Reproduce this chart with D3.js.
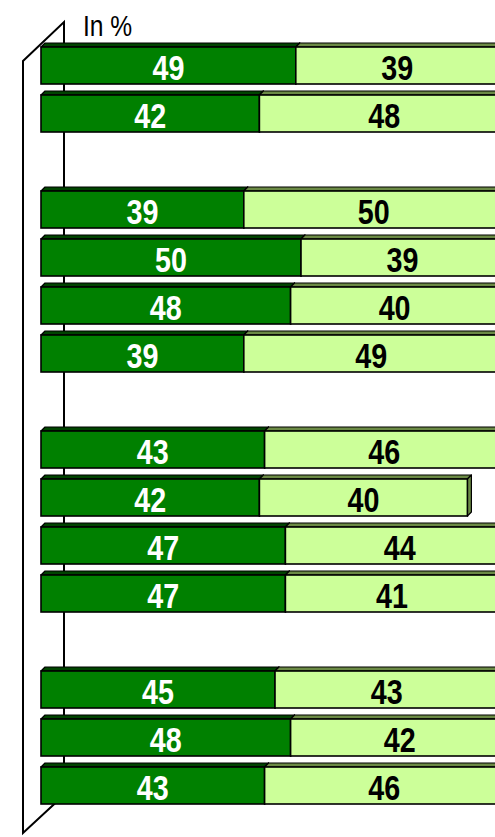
<!DOCTYPE html>
<html>
<head>
<meta charset="utf-8">
<style>
  body { margin: 0; background: #fff; }
  svg { display: block; }
  .lbl { font-family: "Liberation Sans", Arial, sans-serif; font-weight: bold; font-size: 35px; }
  .unit { font-family: "Liberation Sans", Arial, sans-serif; font-size: 30px; }
</style>
</head>
<body>
<script src="https://d3js.org/d3.v7.min.js"></script>
<script>
// 16 slots, three of them empty (group separators)
var rows = ["r1", "r2", "gap1", "r3", "r4", "r5", "r6", "gap2", "r7", "r8", "r9", "r10", "gap3", "r11", "r12", "r13"];
var darkValues = [49, 42, null, 39, 50, 48, 39, null, 43, 42, 47, 47, null, 45, 48, 43];
var lightValues = [39, 48, null, 50, 39, 40, 49, null, 46, 40, 44, 41, null, 43, 42, 46];
var unitLabel = "In %";

var W = 495, H = 837;
var depth = 4;
var narrow = 0.82; // no Arial Narrow here, squeeze Liberation Sans instead

var svg = d3.select("body").append("svg")
    .attr("width", W)
    .attr("height", H);

var x = d3.scaleLinear().domain([0, 100]).range([41, 561]);
var y = d3.scaleBand().domain(rows).range([47, 804]).paddingInner(11 / 48).paddingOuter(0);

// side wall of the 3d plot area
svg.append("polygon")
    .attr("points", [[23, 61], [64, 22], [64, 795], [23, 833]].join(" "))
    .attr("fill", "#fff")
    .attr("stroke", "#000")
    .attr("stroke-width", 2);

svg.append("text")
    .attr("class", "unit")
    .attr("transform", "translate(83,36) scale(" + narrow + ",1)")
    .text(unitLabel);

var data = rows.map(function (r, i) {
    return { row: r, dark: darkValues[i], light: lightValues[i] };
}).filter(function (d) { return d.dark != null; });

var segs = [];
data.forEach(function (d) {
    segs.push({ row: d.row, x0: 0, x1: d.dark, v: d.dark, front: "#008000", top: "#004400", text: "#fff" });
    segs.push({ row: d.row, x0: d.dark, x1: d.dark + d.light, v: d.light, front: "#ccff99", top: "#6b8a45", text: "#000" });
});

var g = svg.append("g");
var bar = g.selectAll("g.seg").data(segs).enter().append("g").attr("class", "seg");

// top face
bar.append("polygon")
    .attr("points", function (d) {
        var a = x(d.x0), b = x(d.x1), t = y(d.row);
        return [[a, t], [a + depth, t - depth], [b + depth, t - depth], [b, t]].join(" ");
    })
    .attr("fill", function (d) { return d.top; })
    .attr("stroke", "#000")
    .attr("stroke-width", 1.2)
    .attr("stroke-linejoin", "round");

// right side face
bar.append("polygon")
    .attr("points", function (d) {
        var b = x(d.x1), t = y(d.row), bt = t + y.bandwidth();
        return [[b, t], [b + depth, t - depth], [b + depth, bt - depth], [b, bt]].join(" ");
    })
    .attr("fill", function (d) { return d.top; })
    .attr("stroke", "#000")
    .attr("stroke-width", 1.2)
    .attr("stroke-linejoin", "round");

// front face
bar.append("rect")
    .attr("x", function (d) { return x(d.x0); })
    .attr("y", function (d) { return y(d.row); })
    .attr("width", function (d) { return x(d.x1) - x(d.x0); })
    .attr("height", y.bandwidth())
    .attr("fill", function (d) { return d.front; })
    .attr("stroke", "#000")
    .attr("stroke-width", 1.6);

bar.append("text")
    .attr("class", "lbl")
    .attr("transform", function (d) {
        var cx = (x(d.x0) + x(d.x1)) / 2;
        var cy = y(d.row) + y.bandwidth() / 2 + 14;
        return "translate(" + cx + "," + cy + ") scale(" + narrow + ",1)";
    })
    .attr("text-anchor", "middle")
    .attr("fill", function (d) { return d.text; })
    .text(function (d) { return d.v; });
</script>
</body>
</html>
